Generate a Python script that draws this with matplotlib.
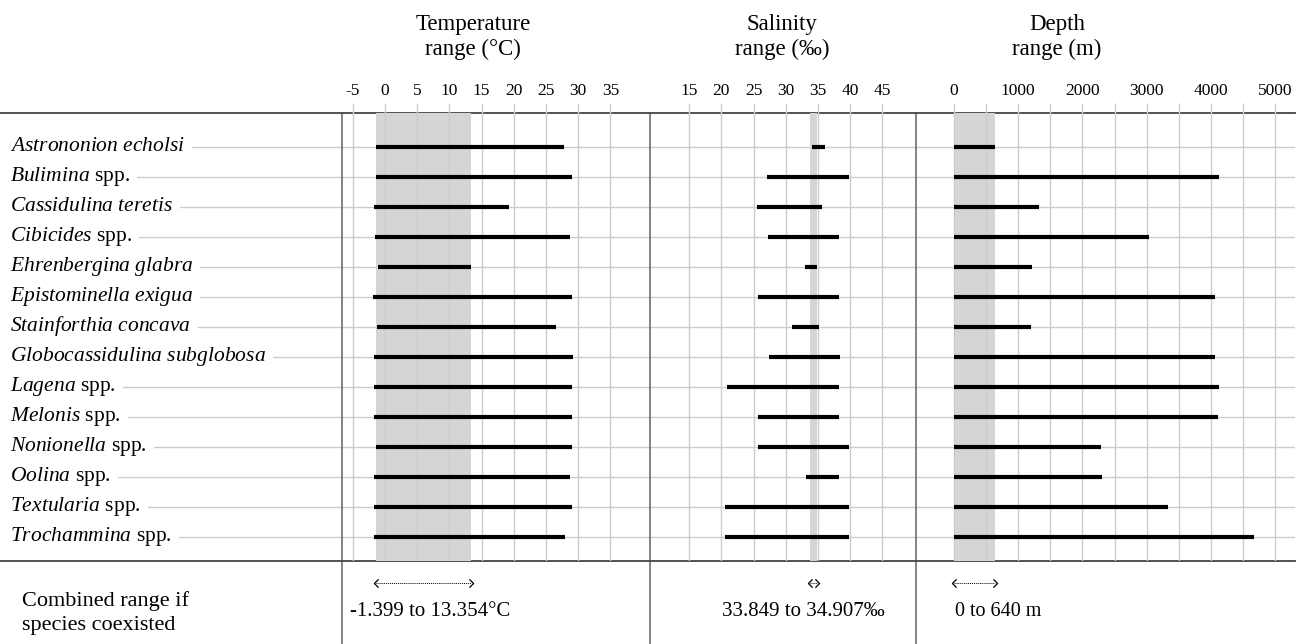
import matplotlib
matplotlib.use("Agg")
import matplotlib.pyplot as plt
from matplotlib.lines import Line2D
from matplotlib.path import Path

plt.rcParams['font.family'] = ['Liberation Serif', 'DejaVu Serif']
plt.rcParams['mathtext.fontset'] = 'custom'
plt.rcParams['mathtext.rm'] = 'Liberation Serif'
plt.rcParams['mathtext.it'] = 'Liberation Serif:italic'
plt.rcParams['axes.unicode_minus'] = False

species = [
    r'$\mathit{Astrononion\ echolsi}$',
    r'$\mathit{Bulimina}$ spp.',
    r'$\mathit{Cassidulina\ teretis}$',
    r'$\mathit{Cibicides}$ spp.',
    r'$\mathit{Ehrenbergina\ glabra}$',
    r'$\mathit{Epistominella\ exigua}$',
    r'$\mathit{Stainforthia\ concava}$',
    r'$\mathit{Globocassidulina\ subglobosa}$',
    r'$\mathit{Lagena}$ spp.',
    r'$\mathit{Melonis}$ spp.',
    r'$\mathit{Nonionella}$ spp.',
    r'$\mathit{Oolina}$ spp.',
    r'$\mathit{Textularia}$ spp.',
    r'$\mathit{Trochammina}$ spp.',
]

temp_min = [-1.4, -1.4, -1.75, -1.6, -1.05, -1.85, -1.3, -1.65, -1.65, -1.75, -1.45, -1.75, -1.65, -1.75]
temp_max = [27.8, 29.0, 19.2, 28.8, 13.3, 29.1, 26.5, 29.25, 29.0, 29.0, 29.0, 28.8, 29.0, 27.95]
sal_min = [34.05, 27.1, 25.5, 27.25, 33.0, 25.7, 31.0, 27.35, 20.8, 25.75, 25.75, 33.1, 20.6, 20.5]
sal_max = [36.2, 39.9, 35.7, 38.35, 34.95, 38.25, 35.25, 38.5, 38.35, 38.25, 39.8, 38.25, 39.9, 39.8]
depth_min = [0] * 14
depth_max = [644, 4123, 1319, 3043, 1215, 4071, 1195, 4071, 4123, 4108, 2290, 2301, 3339, 4679]

combined = {
    'temp': (-1.399, 13.354),
    'sal': (33.849, 34.907),
    'depth': (0, 640),
}
combined_text = ['-1.399 to 13.354°C', '33.849 to 34.907‰', '0 to 640 m']

temp_ticks = [-5, 0, 5, 10, 15, 20, 25, 30, 35]
sal_ticks = [15, 20, 25, 30, 35, 40, 45]
depth_ticks = [0, 1000, 2000, 3000, 4000, 5000]
depth_grid = [0, 500, 1000, 1500, 2000, 2500, 3000, 3500, 4000, 4500, 5000]

W, H = 1303, 644
fig = plt.figure(figsize=(W / 100, H / 100), dpi=100)


def fx(x):
    return x / W


def fy(y):
    return 1 - y / H


top_y, bot_y = 113, 561
ylim = (13.79, -1.143)
grid_c = '#cccccc'

# background: row lines + species names
ax_bg = fig.add_axes([0, fy(bot_y), fx(1295), (bot_y - top_y) / H])
ax_bg.set_xlim(0, 1295)
ax_bg.set_ylim(*ylim)
ax_bg.axis('off')
rows = list(range(len(species)))
ax_bg.hlines(rows, 12, 1295, color=grid_c, lw=1, zorder=1)
for i, name in enumerate(species):
    ax_bg.text(10, i - 0.04, name, fontsize=15.5, va='center', ha='left', zorder=3,
               bbox=dict(facecolor='white', edgecolor='none', pad=5))


def make_panel(x0, x1, xlim, ticks, grid, lo, hi, shade):
    ax = fig.add_axes([fx(x0), fy(bot_y), fx(x1) - fx(x0), (bot_y - top_y) / H])
    ax.set_zorder(2)
    ax.patch.set_visible(False)
    ax.set_xlim(*xlim)
    ax.set_ylim(*ylim)
    ax.xaxis.tick_top()
    ax.set_xticks(ticks)
    ax.set_xticks([g for g in grid if g not in ticks], minor=True)
    ax.tick_params(axis='x', which='both', length=7, width=1, color=grid_c,
                   labelsize=12.5, pad=3)
    ax.set_yticks([])
    for s in ax.spines.values():
        s.set_visible(False)
    ax.axvspan(shade[0], shade[1], color='#d5d5d5', lw=0, zorder=0)
    for g in grid:
        ax.axvline(g, color=grid_c, lw=1, zorder=1)
    ax.hlines(rows, lo, hi, color='black', lw=3, zorder=3)
    return ax


ax_t = make_panel(342, 650, (-6.68, 41.15), temp_ticks, temp_ticks,
                  temp_min, temp_max, combined['temp'])
ax_s = make_panel(650, 916, (8.88, 50.3), sal_ticks, sal_ticks,
                  sal_min, sal_max, combined['sal'])
ax_d = make_panel(916, 1295, (-592, 5311), depth_ticks, depth_grid,
                  depth_min, depth_max, combined['depth'])

# frame lines
for x in [342, 650, 916]:
    fig.add_artist(Line2D([fx(x), fx(x)], [fy(top_y), fy(H)], transform=fig.transFigure,
                          color='#6e6e6e', lw=1.2))
for y in [top_y, bot_y]:
    fig.add_artist(Line2D([0, fx(1295)], [fy(y), fy(y)], transform=fig.transFigure,
                          color='#444444', lw=1.3))

# headers
for x, label in [(473, 'Temperature\nrange (°C)'), (782, 'Salinity\nrange (‰)'),
                 (1057, 'Depth\nrange (m)')]:
    fig.text(fx(x), fy(37), label, ha='center', va='center', fontsize=16.5,
             linespacing=1.25)

# combined range row
fig.text(fx(22), fy(613), 'Combined range if\nspecies coexisted', ha='left', va='center',
         fontsize=16, linespacing=1.3)

left_chev = Path([(0.5, 1), (-0.5, 0), (0.5, -1)], [Path.MOVETO, Path.LINETO, Path.LINETO])
right_chev = Path([(-0.5, 1), (0.5, 0), (-0.5, -1)], [Path.MOVETO, Path.LINETO, Path.LINETO])
arrow_y = (bot_y - 583) / (bot_y - top_y)
for ax, key in [(ax_t, 'temp'), (ax_s, 'sal'), (ax_d, 'depth')]:
    lo, hi = combined[key]
    tr = ax.get_xaxis_transform()
    ax.plot([lo, hi], [arrow_y, arrow_y], transform=tr, color='black', lw=0.7,
            ls=(0, (1, 1)), clip_on=False)
    ax.plot([lo], [arrow_y], transform=tr, marker=left_chev, ms=6, mfc='none',
            mec='black', mew=0.9, clip_on=False)
    ax.plot([hi], [arrow_y], transform=tr, marker=right_chev, ms=6, mfc='none',
            mec='black', mew=0.9, clip_on=False)

fig.text(fx(350), fy(612), combined_text[0], ha='left', va='center', fontsize=15)
fig.text(fx(803), fy(612), combined_text[1], ha='center', va='center', fontsize=15)
fig.text(fx(955), fy(612), combined_text[2], ha='left', va='center', fontsize=14.5)

fig.savefig('out.png', dpi=100)
